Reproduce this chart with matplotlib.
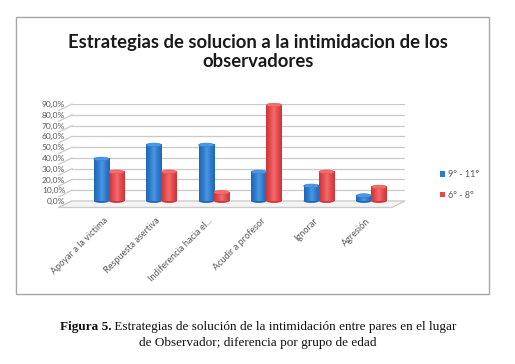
import numpy as np
import matplotlib.pyplot as plt
import matplotlib.transforms as mtransforms
from matplotlib.colors import LinearSegmentedColormap
from matplotlib.patches import Rectangle, Ellipse, Polygon

##### DATA #####
categories = ['Apoyar a la victima', 'Respuesta asertiva', 'Indiferencia hacia el...',
              'Acudir a profesor', 'Ignorar', 'Agresión']
grupo_9_11 = [39, 52, 52, 27, 14, 5]
grupo_6_8 = [27, 27, 8, 89, 27, 13]
series_labels = ['9° - 11°', '6° - 8°']
y_ticks = [0, 10, 20, 30, 40, 50, 60, 70, 80, 90]

##### STYLE #####
W, H = 515, 364
BLUE = '#2b7bcf'
RED = '#e5494b'
TXT = '#595959'
GRID = '#c9c9c9'
BAR_W = 0.29
FONT = 'Lato'
XLIM = (-0.705, 5.64)


def px_x(x):
    return x / W


def px_y(y):
    return 1 - y / H


def cylinder_cmap(col, dark, light):
    return LinearSegmentedColormap.from_list('c', [dark, col, light, col, dark])


fig = plt.figure(figsize=(W / 100, H / 100), dpi=100)

# chart frame
fig.patches.append(Rectangle((px_x(16), px_y(294)), px_x(489) - px_x(16), px_y(17) - px_y(294),
                             transform=fig.transFigure, fill=False, edgecolor='#a6a6a6', lw=1.0))

fig.text(px_x(258), px_y(52), 'Estrategias de solucion a la intimidacion de los\nobservadores',
         ha='center', va='center', fontsize=13.3, fontweight='bold', family=FONT,
         color='#1a1a1a', linespacing=1.15)

ax = fig.add_axes([px_x(72), px_y(201), px_x(405) - px_x(72), px_y(104) - px_y(201)])
x = np.arange(len(categories))
for s in ax.spines.values():
    s.set_visible(False)
ax.set_facecolor('none')

# back wall gridlines + side wall slants
for t in y_ticks:
    ax.axhline(t, color=GRID, lw=0.9, zorder=0)
    ax.plot([XLIM[0], XLIM[0] - 0.25], [t, t - 6], color=GRID, lw=0.9, clip_on=False, zorder=0)

# floor
ax.add_patch(Polygon([[XLIM[0], 0], [XLIM[1], 0], [XLIM[1] - 0.25, -6], [XLIM[0] - 0.25, -6]],
                     closed=True, facecolor='#f4f4f4', edgecolor=GRID, lw=0.9,
                     clip_on=False, zorder=0))

cap_h = 3.5
grad = np.linspace(0, 1, 64).reshape(1, -1)
for vals, off, col, dark, light, lab in [
        (grupo_9_11, -BAR_W / 2, BLUE, '#1f66b3', '#4f98e0', series_labels[0]),
        (grupo_6_8, BAR_W / 2, RED, '#cc3538', '#ef6e70', series_labels[1])]:
    bars = ax.bar(x + off, vals, width=BAR_W, color=col, edgecolor='none',
                  label=lab, zorder=3, clip_on=False)
    cmap = cylinder_cmap(col, dark, light)
    for b in bars:
        x0, w, h = b.get_x(), b.get_width(), b.get_height()
        im = ax.imshow(grad, cmap=cmap, extent=[x0, x0 + w, 0, h], aspect='auto',
                       zorder=3.5, clip_on=False)
        im.set_clip_path(b)
        ax.add_patch(Ellipse((x0 + w / 2, h), w, cap_h, facecolor=light, edgecolor=col,
                             lw=0.4, zorder=4, clip_on=False))
        ax.add_patch(Ellipse((x0 + w / 2, 0), w, cap_h, facecolor=dark, edgecolor='none',
                             zorder=2, clip_on=False))

ax.set_xlim(*XLIM)
ax.set_ylim(0, 90)
ax.set_yticks(y_ticks)
ax.set_yticklabels([f'{t:.1f}%'.replace('.', ',') for t in y_ticks])
ax.set_xticks(x)
ax.set_xticklabels(categories, rotation=45, ha='right', rotation_mode='anchor')
ax.tick_params(axis='both', length=0, colors=TXT)
ax.tick_params(axis='y', pad=5, labelsize=6)
ax.tick_params(axis='x', pad=11, labelsize=6.6)
shift = mtransforms.ScaledTranslation(-6 / 100, 0, fig.dpi_scale_trans)
for lbl in ax.get_xticklabels():
    lbl.set_transform(lbl.get_transform() + shift)
for lbl in ax.get_xticklabels() + ax.get_yticklabels():
    lbl.set_family(FONT)

leg = fig.legend(handles=ax.containers, labels=series_labels, loc='center left',
                 bbox_to_anchor=(px_x(432), px_y(185)), frameon=False,
                 handlelength=0.55, handleheight=0.55, handletextpad=0.3, labelspacing=1.3,
                 prop={'family': FONT, 'size': 6.5})
for t in leg.get_texts():
    t.set_color(TXT)

# caption with bold lead-in
fig.canvas.draw()
r = fig.canvas.get_renderer()
cap_bold = fig.text(0, px_y(327), 'Figura 5.', fontsize=9.5, fontweight='bold',
                    family='Liberation Serif', va='center', color='#111111')
cap_rest = fig.text(0, px_y(327), ' Estrategias de solución de la intimidación entre pares en el lugar',
                    fontsize=9.5, family='Liberation Serif', va='center', color='#111111')
wb = cap_bold.get_window_extent(r).width
wr = cap_rest.get_window_extent(r).width
x0 = 258 - (wb + wr) / 2
cap_bold.set_x(px_x(x0))
cap_rest.set_x(px_x(x0 + wb))
fig.text(px_x(258), px_y(343), 'de Observador; diferencia por grupo de edad', fontsize=9.5,
         family='Liberation Serif', ha='center', va='center', color='#111111')

fig.savefig('out.png', dpi=100)
